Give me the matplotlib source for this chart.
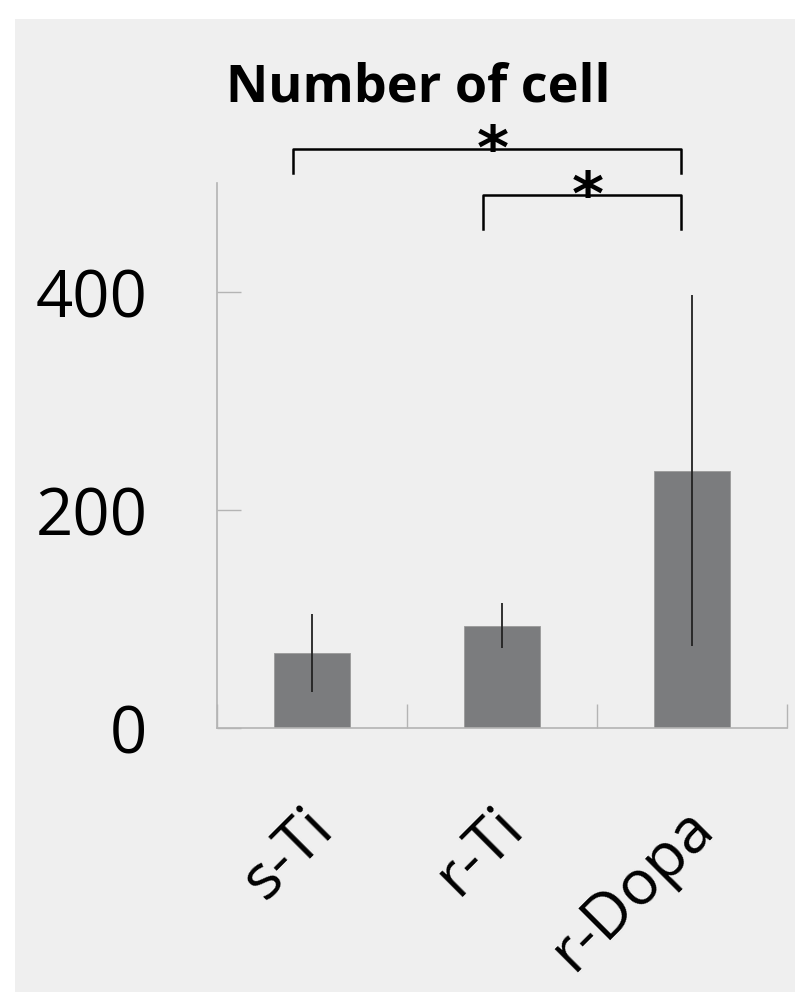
import matplotlib
matplotlib.use("Agg")
import matplotlib.pyplot as plt
import matplotlib.transforms as mtransforms
from matplotlib.patches import Rectangle

categories = ["s-Ti", "r-Ti", "r-Dopa"]
means = [69, 94, 236]
errors = [36, 21, 161]
yticks = [0, 200, 400]
title = "Number of cell"
# significance brackets: (left index, right index, bracket level in data units, leg bottom)
sig_pairs = [(0, 2, 531, 509), (1, 2, 489, 458)]

plt.rcParams['font.family'] = ['Open Sans', 'DejaVu Sans']

W, H, DPI = 795, 992, 100
fig = plt.figure(figsize=(W / DPI, H / DPI), dpi=DPI, facecolor="white")
fig.patches.append(Rectangle((15 / W, 0), 1 - 15 / W, 1 - 19 / H, transform=fig.transFigure,
                             facecolor="#efefef", edgecolor="none", zorder=-10))

ax = fig.add_axes([217 / W, 1 - 728 / H, 570 / W, 545 / H])
ax.set_facecolor("none")
ax.set_zorder(5)

x = list(range(len(categories)))
ax.bar(x, means, width=0.4, color="#7b7c7e", edgecolor="#9a9a9a", linewidth=0.6, zorder=2)
ax.errorbar(x, means, yerr=errors, fmt="none", ecolor="#222222", elinewidth=1.3,
            capsize=0, zorder=3)

ax.set_xlim(-0.5, len(categories) - 0.5)
ax.set_ylim(0, 500)
ax.set_yticks(yticks)
ax.set_yticklabels([str(v) for v in yticks], fontsize=47)
ax.set_xticks([i - 0.5 for i in range(len(categories) + 1)], minor=False)
ax.set_xticklabels([""] * (len(categories) + 1))
ax.set_xticks(x, minor=True)
ax.set_xticklabels(categories, minor=True, fontsize=45, rotation=45, ha="right",
                   rotation_mode="anchor", va="top")

ax.tick_params(axis="y", direction="in", length=17, width=1.0, color="#b4b4b4", pad=50)
ax.tick_params(axis="x", which="major", direction="in", length=17, width=1.0, color="#b4b4b4")
ax.tick_params(axis="x", which="minor", length=0, pad=49)

offset = mtransforms.ScaledTranslation(-10 / DPI, 0, fig.dpi_scale_trans)
for lbl in ax.xaxis.get_minorticklabels():
    lbl.set_transform(lbl.get_transform() + offset)

for s in ["top", "right"]:
    ax.spines[s].set_visible(False)
for s in ["left", "bottom"]:
    ax.spines[s].set_color("#b4b4b4")
    ax.spines[s].set_linewidth(1.2)

# significance brackets
for (i, j, level, bottom) in sig_pairs:
    xi, xj = i - 0.1, j - 0.06
    ax.plot([xi, xi, xj, xj], [bottom, level, level, bottom], color="black", lw=1.8,
            clip_on=False, solid_joinstyle="round", zorder=4)
    ax.text((xi + xj) / 2 + 0.03, level - 3, "*", ha="center", va="center", fontsize=44,
            fontweight="bold", clip_on=False, zorder=5, family=["DejaVu Sans"])

fig.text(418 / W, 1 - 88 / H, title, ha="center", va="center", fontsize=37.5, fontweight="bold")

fig.savefig("out.png", dpi=DPI, facecolor=fig.get_facecolor())
